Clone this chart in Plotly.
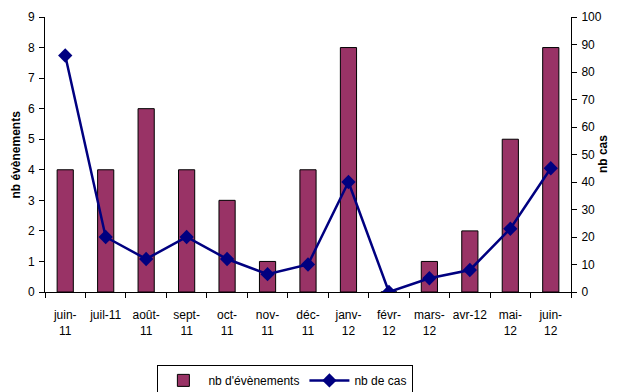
import plotly.graph_objects as go

categories = ["juin-<br>11", "juil-11", "août-<br>11", "sept-<br>11", "oct-<br>11", "nov-<br>11",
              "déc-<br>11", "janv-<br>12", "févr-<br>12", "mars-<br>12", "avr-12", "mai-<br>12", "juin-<br>12"]
nb_evenements = [4, 4, 6, 4, 3, 1, 4, 8, 0, 1, 2, 5, 8]
nb_cas = [86, 20, 12, 20, 12, 6.5, 10, 40, 0, 5, 8, 23, 45]

fig = go.Figure()
fig.add_trace(go.Bar(
    x=categories, y=nb_evenements, name="nb d'évènements",
    marker=dict(color="#993366", line=dict(color="black", width=1)),
    width=0.4, yaxis="y",
))
fig.add_trace(go.Scatter(
    x=categories, y=nb_cas, name="nb de cas", mode="lines+markers",
    line=dict(color="#000080", width=2.5),
    marker=dict(symbol="diamond", size=11, color="#000080"),
    yaxis="y2",
))

font = dict(family="Liberation Sans, Arial, sans-serif", size=12, color="black")
fig.update_layout(
    width=609, height=384,
    margin=dict(l=37, r=46, t=9, b=100, autoexpand=False),
    paper_bgcolor="white", plot_bgcolor="white",
    font=font,
    showlegend=True,
    legend=dict(orientation="h", x=0.457, xanchor="center", y=-0.265, yanchor="top",
                bordercolor="black", borderwidth=1, font=dict(size=12),
                itemwidth=40, tracegroupgap=0),
    xaxis=dict(type="category", showline=True, linecolor="black", linewidth=1,
               ticks="outside", ticklen=5, tickcolor="black", tickson="boundaries",
               showgrid=False, tickangle=0, range=[-0.5, 12.5], ticklabelstandoff=12),
    yaxis=dict(range=[0, 9], dtick=1, showline=True, linecolor="black", linewidth=1,
               ticks="outside", ticklen=5, tickcolor="black", showgrid=False, zeroline=False,
               ticklabelstandoff=2),
    yaxis2=dict(range=[0, 100], dtick=10, overlaying="y", side="right", showline=True,
                linecolor="black", linewidth=1, ticks="outside", ticklen=5, tickcolor="black",
                showgrid=False, zeroline=False, ticklabelstandoff=2),
    annotations=[
        dict(text="<b>nb évènements</b>", xref="paper", yref="paper", x=-0.057, y=0.5,
             textangle=-90, showarrow=False, font=dict(size=12), xanchor="center", yanchor="middle"),
        dict(text="<b>nb cas</b>", xref="paper", yref="paper", x=1.060, y=0.5,
             textangle=-90, showarrow=False, font=dict(size=12), xanchor="center", yanchor="middle"),
    ],
)

fig.write_html("out.html")
